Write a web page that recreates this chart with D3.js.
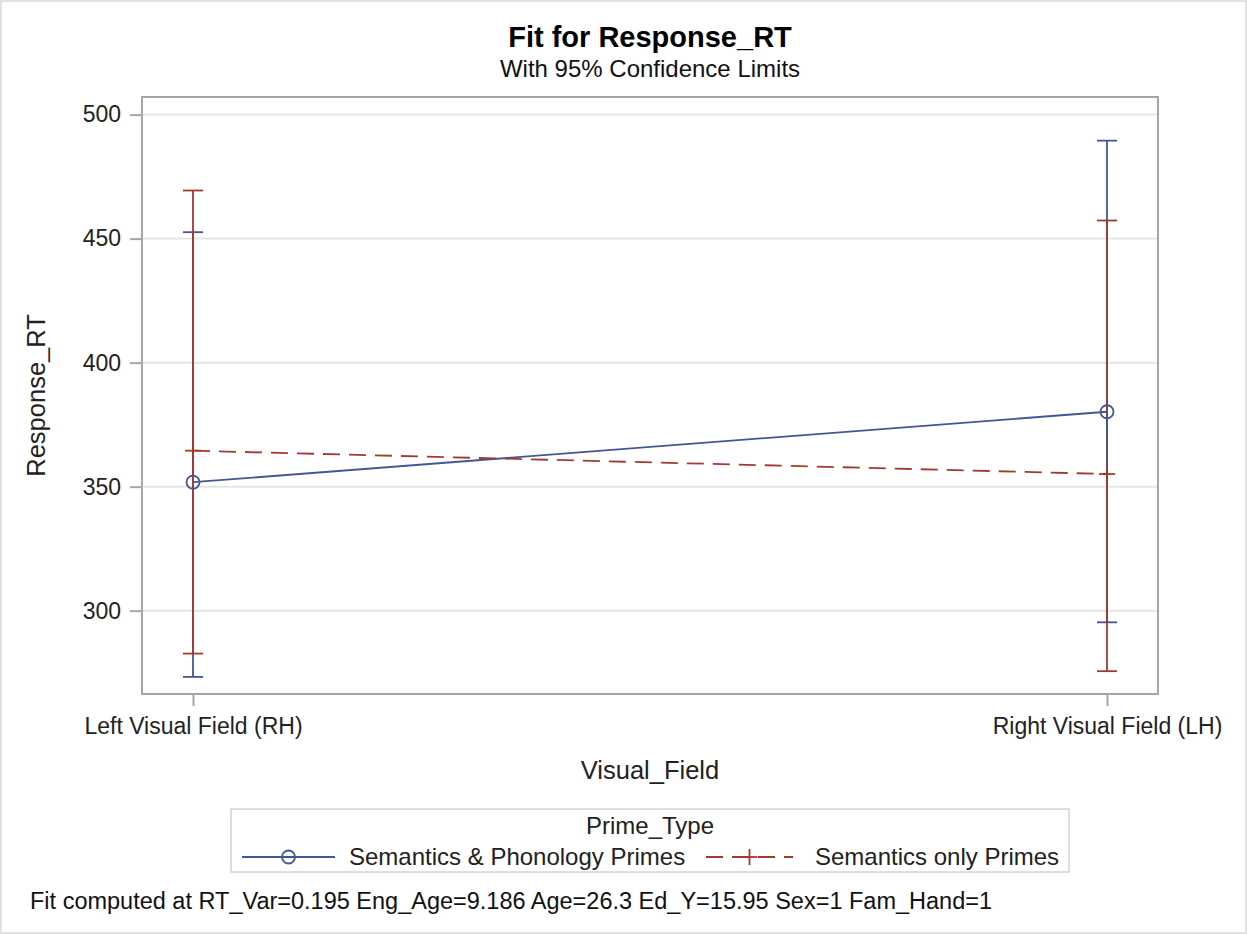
<!DOCTYPE html>
<html>
<head>
<meta charset="utf-8">
<script src="https://cdn.jsdelivr.net/npm/d3@7/dist/d3.min.js"></script>
<style>
  html, body { margin: 0; padding: 0; background: #fff; }
  svg { display: block; font-family: "Liberation Sans", Arial, sans-serif; }
</style>
</head>
<body>
<svg id="chart" width="1247" height="934"></svg>
<script>
// ---- data ----
const categories = ["Left Visual Field (RH)", "Right Visual Field (LH)"];
const seriesNames = ["Semantics & Phonology Primes", "Semantics only Primes"];
const semPhonFit   = [351.8, 380.2];
const semPhonLower = [273.3, 295.3];
const semPhonUpper = [452.6, 489.5];
const semOnlyFit   = [364.5, 355.1];
const semOnlyLower = [282.7, 275.6];
const semOnlyUpper = [469.4, 457.3];
const yTicks = [300, 350, 400, 450, 500];
const titleText = "Fit for Response_RT";
const subtitleText = "With 95% Confidence Limits";
const xLabel = "Visual_Field";
const yLabel = "Response_RT";
const legendTitle = "Prime_Type";
const footnoteText = "Fit computed at RT_Var=0.195 Eng_Age=9.186 Age=26.3 Ed_Y=15.95 Sex=1 Fam_Hand=1";

// ---- layout ----
const W = 1247, H = 934;
const plot = { left: 142, right: 1158, top: 97, bottom: 694 };
const BLUE = "#445694", RED = "#A23A2E";
const SW = 1.8;
const svg = d3.select("#chart");

// outer border
svg.append("rect").attr("x", 1).attr("y", 1).attr("width", W - 2).attr("height", H - 2)
  .attr("fill", "#fff").attr("stroke", "#d8d8d8").attr("stroke-width", 1.5);

const x = d3.scalePoint().domain(categories).range([plot.left, plot.right]).padding(0.0558);
const y = d3.scaleLinear().domain([266.4, 507.1]).range([plot.bottom, plot.top]);

// gridlines
svg.append("g").selectAll("line").data(yTicks).join("line")
  .attr("x1", plot.left).attr("x2", plot.right)
  .attr("y1", d => y(d)).attr("y2", d => y(d))
  .attr("stroke", "#e6e6e6").attr("stroke-width", 2);

// axes
const yAxis = svg.append("g").attr("transform", `translate(${plot.left},0)`)
  .call(d3.axisLeft(y).tickValues(yTicks).tickSize(12).tickPadding(9));
const xAxis = svg.append("g").attr("transform", `translate(0,${plot.bottom})`)
  .call(d3.axisBottom(x).tickSize(12).tickPadding(12));
[yAxis, xAxis].forEach(a => {
  a.select(".domain").remove();
  a.selectAll(".tick line").attr("stroke", "#a6a6a6").attr("stroke-width", 2);
  a.selectAll(".tick text").attr("fill", "#222").style("font-size", "23px")
    .style("font-family", "'Liberation Sans', Arial, sans-serif");
});

// frame
svg.append("rect").attr("x", plot.left).attr("y", plot.top)
  .attr("width", plot.right - plot.left).attr("height", plot.bottom - plot.top)
  .attr("fill", "none").attr("stroke", "#a6a6a6").attr("stroke-width", 2);

// series data
const series = [
  { name: seriesNames[0], color: BLUE, fit: semPhonFit, lo: semPhonLower, hi: semPhonUpper, dash: null, marker: "circle" },
  { name: seriesNames[1], color: RED, fit: semOnlyFit, lo: semOnlyLower, hi: semOnlyUpper, dash: "17,9", marker: "plus" }
];

// fit lines
const line = d3.line().x((d, i) => x(categories[i])).y(d => y(d));
series.forEach(s => {
  svg.append("path").datum(s.fit).attr("d", line)
    .attr("fill", "none").attr("stroke", s.color).attr("stroke-width", SW)
    .attr("stroke-dasharray", s.dash);
});

// error bars: upper halves then lower halves (blue then red)
const capW = 10;
function half(s, ends) {
  const g = svg.append("g").attr("stroke", s.color).attr("stroke-width", SW);
  categories.forEach((c, i) => {
    g.append("line").attr("x1", x(c)).attr("x2", x(c))
      .attr("y1", y(s.fit[i])).attr("y2", y(ends[i]));
    g.append("line").attr("x1", x(c) - capW).attr("x2", x(c) + capW)
      .attr("y1", y(ends[i])).attr("y2", y(ends[i]));
  });
}
half(series[0], series[0].hi);
half(series[1], series[1].hi);
half(series[0], series[0].lo);
half(series[1], series[1].lo);

// markers
function drawMarker(g, type, cx, cy, color) {
  if (type === "circle") {
    g.append("circle").attr("cx", cx).attr("cy", cy).attr("r", 6.5)
      .attr("fill", "none").attr("stroke", color).attr("stroke-width", SW);
  } else {
    g.append("line").attr("x1", cx - 8).attr("x2", cx + 8).attr("y1", cy).attr("y2", cy)
      .attr("stroke", color).attr("stroke-width", SW);
    g.append("line").attr("x1", cx).attr("x2", cx).attr("y1", cy - 8).attr("y2", cy + 8)
      .attr("stroke", color).attr("stroke-width", SW);
  }
}
series.forEach(s => {
  const g = svg.append("g");
  categories.forEach((c, i) => drawMarker(g, s.marker, x(c), y(s.fit[i]), s.color));
});

// titles
svg.append("text").attr("x", 650).attr("y", 47).attr("text-anchor", "middle")
  .style("font-size", "29px").style("font-weight", "bold").attr("fill", "#000").text(titleText);
svg.append("text").attr("x", 650).attr("y", 76.5).attr("text-anchor", "middle")
  .style("font-size", "24px").attr("fill", "#111").text(subtitleText);

// axis labels
svg.append("text").attr("x", (plot.left + plot.right) / 2).attr("y", 779).attr("text-anchor", "middle")
  .style("font-size", "25.5px").attr("fill", "#222").text(xLabel);
svg.append("text").attr("transform", `translate(45,${(plot.top + plot.bottom) / 2}) rotate(-90)`)
  .attr("text-anchor", "middle").style("font-size", "25.5px").attr("fill", "#222").text(yLabel);

// legend
const lg = svg.append("g");
lg.append("rect").attr("x", 231).attr("y", 809).attr("width", 838).attr("height", 63)
  .attr("fill", "#fff").attr("stroke", "#d4d4d4").attr("stroke-width", 1.5);
lg.append("text").attr("x", 650).attr("y", 834).attr("text-anchor", "middle")
  .style("font-size", "24px").attr("fill", "#222").text(legendTitle);
const legItems = [
  { s: series[0], x0: 242, x1: 335, tx: 349 },
  { s: series[1], x0: 706, x1: 793, tx: 815 }
];
legItems.forEach(it => {
  const cy = 857;
  lg.append("line").attr("x1", it.x0).attr("x2", it.x1).attr("y1", cy).attr("y2", cy)
    .attr("stroke", it.s.color).attr("stroke-width", SW).attr("stroke-dasharray", it.s.dash);
  drawMarker(lg, it.s.marker, (it.x0 + it.x1) / 2, cy, it.s.color);
  lg.append("text").attr("x", it.tx).attr("y", 864.5)
    .style("font-size", "24px").attr("fill", "#222").text(it.s.name);
});

// footnote
svg.append("text").attr("x", 30).attr("y", 909)
  .style("font-size", "23.5px").attr("fill", "#111").text(footnoteText);
</script>
</body>
</html>
